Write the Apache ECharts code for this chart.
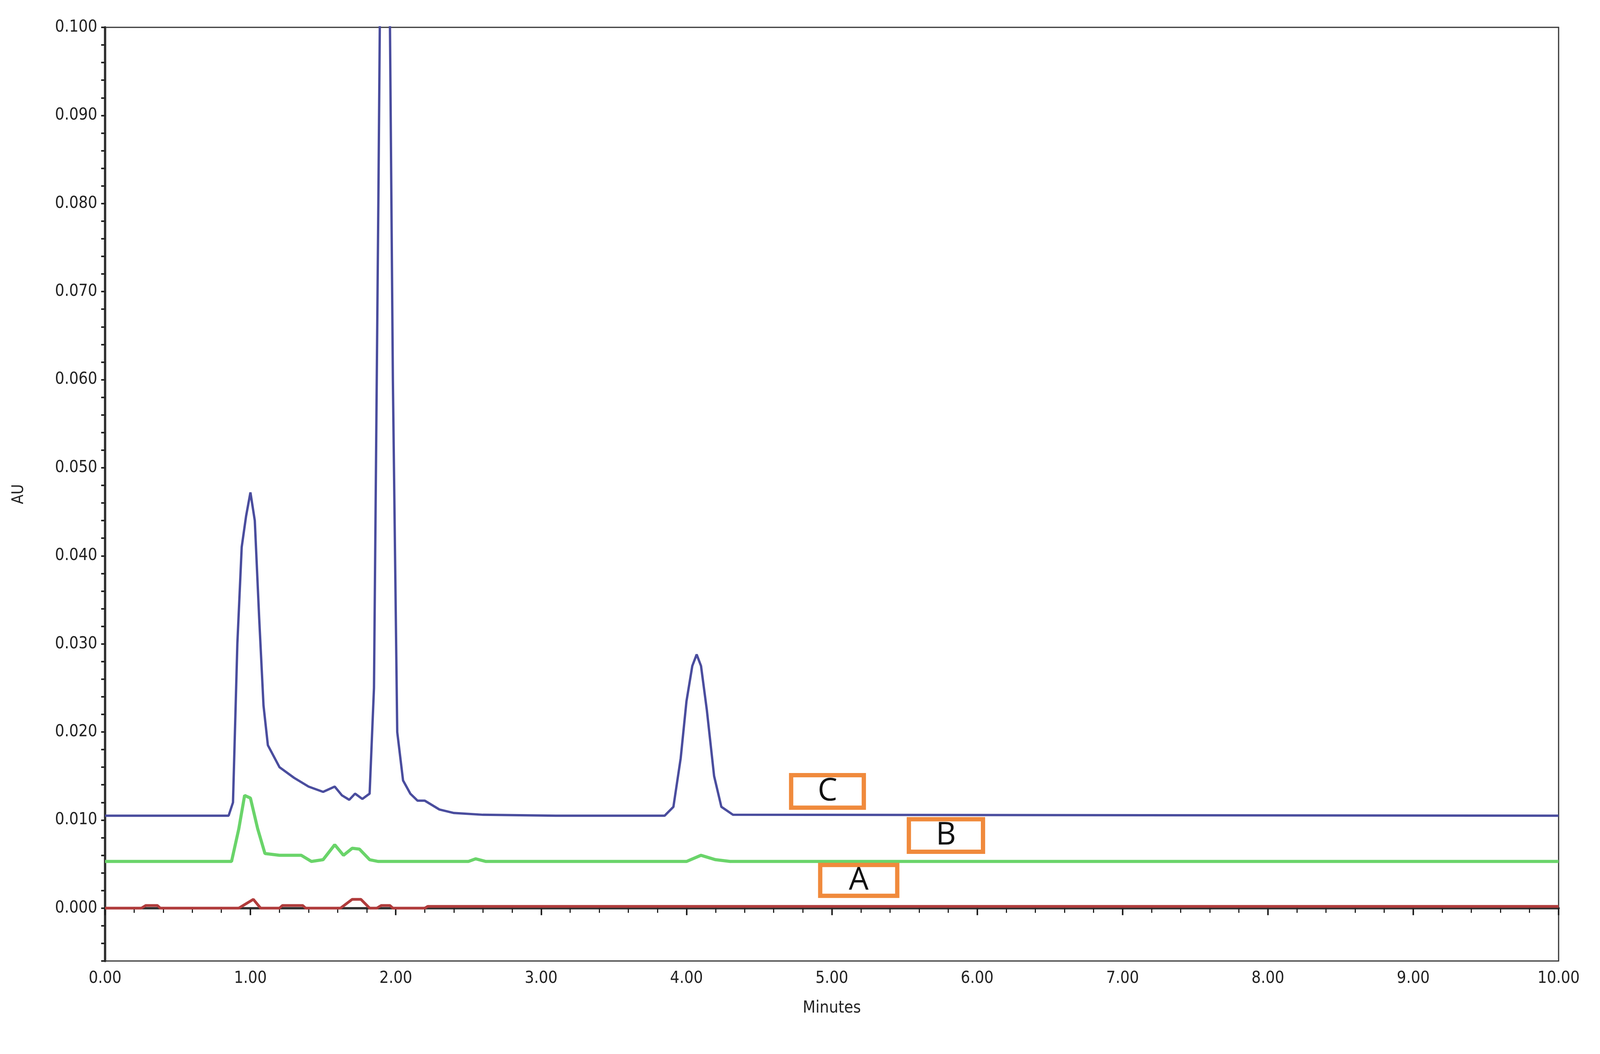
<!DOCTYPE html>
<html><head><meta charset="utf-8">
<script src="https://cdn.jsdelivr.net/npm/echarts@6/dist/echarts.min.js"></script>
<style>html,body{margin:0;padding:0;background:#fff}#c{width:4207px;height:2697px}</style>
</head><body><div id="c"></div>
<script>
const seriesC = [[0,0.0105],[0.85,0.0105],[0.88,0.012],[0.91,0.03],[0.94,0.041],[0.97,0.0445],[1.0,0.0472],[1.03,0.044],[1.06,0.033],[1.09,0.023],[1.12,0.0185],[1.2,0.016],[1.3,0.0148],[1.4,0.0138],[1.5,0.0132],[1.58,0.0138],[1.63,0.0128],[1.68,0.0123],[1.72,0.013],[1.77,0.0124],[1.82,0.013],[1.85,0.025],[1.88,0.08],[1.91,0.14],[1.95,0.12],[1.98,0.06],[2.01,0.02],[2.05,0.0145],[2.1,0.013],[2.15,0.0122],[2.2,0.0122],[2.3,0.0112],[2.4,0.0108],[2.6,0.0106],[3.1,0.0105],[3.85,0.0105],[3.91,0.0115],[3.96,0.017],[4.0,0.0235],[4.04,0.0275],[4.07,0.0288],[4.1,0.0275],[4.14,0.0225],[4.19,0.015],[4.24,0.0115],[4.32,0.0106],[10,0.0105]];
const seriesB = [[0,0.0053],[0.87,0.0053],[0.92,0.009],[0.96,0.0128],[1.0,0.0125],[1.05,0.009],[1.1,0.0062],[1.2,0.006],[1.35,0.006],[1.42,0.0053],[1.5,0.0055],[1.58,0.0072],[1.64,0.006],[1.7,0.0068],[1.75,0.0067],[1.82,0.0055],[1.88,0.0053],[2.5,0.0053],[2.55,0.0056],[2.62,0.0053],[4.0,0.0053],[4.1,0.006],[4.2,0.0055],[4.3,0.0053],[10,0.0053]];
const seriesA = [[0,0.0],[0.25,0.0],[0.28,0.0003],[0.36,0.0003],[0.38,0.0],[0.92,0.0],[1.02,0.001],[1.07,0.0],[1.2,0.0],[1.22,0.0003],[1.36,0.0003],[1.38,0.0],[1.62,0.0],[1.7,0.001],[1.76,0.001],[1.82,0.0],[1.87,0.0],[1.9,0.0003],[1.96,0.0003],[1.98,0.0],[2.2,0.0],[2.22,0.0002],[10,0.0002]];
const labelBoxes = [
  {name:'C', x0:4.72, x1:5.22, y0:0.0114, y1:0.0151},
  {name:'B', x0:5.53, x1:6.04, y0:0.0064, y1:0.0101},
  {name:'A', x0:4.92, x1:5.45, y0:0.0014, y1:0.0049}
];
const font = '"Liberation Sans Narrow","DejaVu Sans Condensed","Liberation Sans",sans-serif';
const chart = echarts.init(document.getElementById('c'));
chart.setOption({
  animation:false,
  backgroundColor:'#fff',
  grid:{left:269,right:217,top:70,bottom:238,show:true,borderColor:'#333',borderWidth:3},
  xAxis:{type:'value',min:0,max:10,interval:1,name:'Minutes',nameLocation:'middle',nameGap:100,
    nameTextStyle:{fontFamily:font,fontSize:42,color:'#222'},
    axisLine:{lineStyle:{color:'#333',width:6}},
    axisTick:{length:18,lineStyle:{color:'#222',width:4}},
    minorTick:{show:true,splitNumber:5,length:12,lineStyle:{color:'#222',width:3}},
    splitLine:{show:false},
    axisLabel:{fontFamily:font,fontSize:42,color:'#222',margin:24,formatter:v=>v.toFixed(2)}},
  yAxis:{type:'value',min:-0.006,max:0.1,interval:0.002,name:'AU',nameLocation:'middle',nameGap:200,
    nameTextStyle:{fontFamily:font,fontSize:40,color:'#222'},
    axisLine:{lineStyle:{color:'#333',width:6}},
    axisTick:{length:10,lineStyle:{color:'#222',width:4}},
    splitLine:{show:false},
    axisLabel:{fontFamily:font,fontSize:42,color:'#222',margin:20,
      formatter:v=>{const k=Math.round(v*1000); return (k>=0 && k%10===0)?(k/1000).toFixed(3):'';}}},
  series:[
    {type:'line',data:seriesA,symbol:'none',lineStyle:{color:'#b03c3c',width:7},z:3},
    {type:'line',data:seriesB,symbol:'none',lineStyle:{color:'#6ad46a',width:8},z:3},
    {type:'line',data:seriesC,symbol:'none',lineStyle:{color:'#4a4d9e',width:6},z:3,
     markArea:{silent:true,z:5,
       itemStyle:{color:'#ffffff',borderColor:'#f08a3c',borderWidth:11},
       label:{position:'inside',fontFamily:'"Open Sans",sans-serif',fontSize:80,color:'#111'},
       data:labelBoxes.map(b=>[{name:b.name,coord:[b.x0,b.y0]},{coord:[b.x1,b.y1]}])}}
  ]
});
</script></body></html>
